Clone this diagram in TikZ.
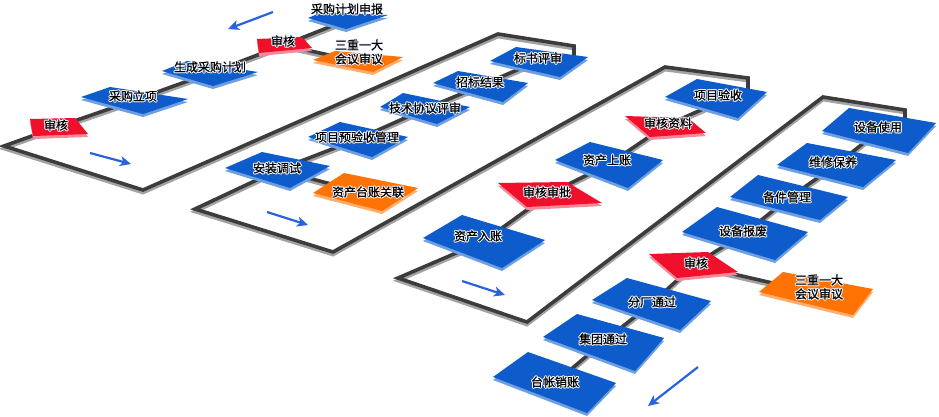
\documentclass[tikz,border=0pt]{standalone}
\usepackage{fontspec}
\newfontfamily\cjk[FakeBold=0.7]{Noto Sans CJK SC}
\usetikzlibrary{arrows.meta}
\definecolor{bmain}{HTML}{0E5BCB}
\definecolor{bedge}{HTML}{6E9FE0}
\definecolor{rmain}{HTML}{F0102C}
\definecolor{redge}{HTML}{F38A9A}
\definecolor{omain}{HTML}{FF7204}
\definecolor{oedge}{HTML}{FFAE70}
\definecolor{lmain}{HTML}{3C3C3C}
\definecolor{lshad}{HTML}{A3A3A3}
\definecolor{arr}{HTML}{2A62DE}
\definecolor{halo}{HTML}{F4F8FF}
\newcommand\blk[5]{\fill[#1edge,yshift=-3pt] #2--#3--#4--#5--cycle; \fill[#1main] #2--#3--#4--#5--cycle;}
\newcommand\glow[1]{{%
\def\gc##1##2{\makebox[0pt][l]{\hspace{##1}\raisebox{##2}{\color{halo}#1}}}%
\gc{1pt}{0pt}\gc{-1pt}{0pt}\gc{0pt}{1pt}\gc{0pt}{-1pt}\gc{0.7pt}{0.7pt}\gc{-0.7pt}{0.7pt}\gc{0.7pt}{-0.7pt}\gc{-0.7pt}{-0.7pt}#1}}
\newcommand\allnets[1]{%
 \draw[#1] (s1)--(s2)--(s4)--(s5)--(s6)--(c1)--(c2)--(c3)--(c4)--(c4|-s7);
 \draw[#1] (s2)--(s3);
 \draw[#1] (s7)--(s8)--(s9)--(s10)--(s11)--(c5)--(c6)--(c7)--(c8)--(c8|-s13);
 \draw[#1] (s11)--(s12);
 \draw[#1] (s13)--(s14)--(s15)--(s16)--(s17)--(c9)--(c10)--(c11)--(c12)--(c12|-s18);
 \draw[#1] (s18)--(s19)--(s20)--(s21)--(s22)--(s24)--(s25)--(s26);
 \draw[#1] (s22)--(s23);
}
\begin{document}
\begin{tikzpicture}[x=1pt,y=-1pt,line join=miter,
  conn/.style={line width=3.6pt,draw=lmain},
  connsh/.style={line width=3.6pt,draw=lshad},
  lbl/.style={font=\cjk\fontsize{12}{14}\selectfont,inner sep=0pt,align=center},
  flow/.style={draw=arr,line width=2.2pt,-{Stealth[length=11pt,width=10pt,inset=3pt]}}]
\fill[white] (0,0) rectangle (939,416);
\useasboundingbox (0,0) rectangle (939,416);
% shape centres
\coordinate (s1) at (347,20);
\coordinate (s2) at (284,45);
\coordinate (s3) at (360,62);
\coordinate (s4) at (210,73);
\coordinate (s5) at (135,100);
\coordinate (s6) at (57,127);
\coordinate (s7) at (540,60);
\coordinate (s8) at (480,86);
\coordinate (s9) at (425,109);
\coordinate (s10) at (358,139);
\coordinate (s11) at (278,170);
\coordinate (s12) at (365,193);
\coordinate (s13) at (730,97);
\coordinate (s14) at (665,126);
\coordinate (s15) at (609,164);
\coordinate (s16) at (549,194);
\coordinate (s17) at (484,241);
\coordinate (s18) at (880,130);
\coordinate (s19) at (836,165);
\coordinate (s20) at (789,198);
\coordinate (s21) at (745,233);
\coordinate (s22) at (694,265);
\coordinate (s23) at (816,293);
\coordinate (s24) at (651,304);
\coordinate (s25) at (603,342);
\coordinate (s26) at (555,383);
% frame corners
\coordinate (c1) at (4,146);
\coordinate (c2) at (143,190);
\coordinate (c3) at (498,34);
\coordinate (c4) at (574,46);
\coordinate (c5) at (195,209);
\coordinate (c6) at (333,252);
\coordinate (c7) at (665,67);
\coordinate (c8) at (748,78);
\coordinate (c9) at (398,278);
\coordinate (c10) at (527,322);
\coordinate (c11) at (823,97);
\coordinate (c12) at (905,110);
% connectors
\begin{scope}[transform canvas={yshift=-2.6pt}]
\allnets{connsh}
\end{scope}
\allnets{conn}
% shapes
\blk{b}{(308,18)}{(322,12)}{(388,15)}{(346,29)}
\blk{r}{(257,39)}{(302,37)}{(312,48)}{(259,53)}
\blk{o}{(313,60)}{(335,51)}{(403,57)}{(373,72)}
\blk{b}{(162,71)}{(187,61)}{(258,72)}{(213,86)}
\blk{b}{(81,97)}{(110,87)}{(188,99)}{(143,114)}
\blk{r}{(30,119)}{(75,118)}{(88,134)}{(33,136)}
\blk{b}{(490,61)}{(516,47)}{(588,57)}{(560,77)}
\blk{b}{(433,83)}{(458,71)}{(528,83)}{(503,102)}
\blk{b}{(380,107)}{(403,93)}{(470,107)}{(437,124)}
\blk{b}{(308,137)}{(340,122)}{(408,137)}{(372,157)}
\blk{b}{(225,168)}{(262,152)}{(330,166)}{(290,188)}
\blk{o}{(313,193)}{(344,173)}{(418,188)}{(382,211)}
\blk{b}{(665,97)}{(697,79)}{(767,92)}{(738,118)}
\blk{r}{(625,116)}{(688,118)}{(706,133)}{(650,137)}
\blk{b}{(555,160)}{(590,142)}{(663,160)}{(628,188)}
\blk{r}{(498,183)}{(567,182)}{(602,203)}{(527,207)}
\blk{b}{(423,238)}{(462,215)}{(545,240)}{(502,268)}
\blk{b}{(822,131)}{(849,108)}{(936,123)}{(908,153)}
\blk{b}{(777,165)}{(807,143)}{(896,160)}{(863,187)}
\blk{b}{(730,197)}{(758,175)}{(848,197)}{(820,220)}
\blk{b}{(682,232)}{(717,207)}{(808,232)}{(775,260)}
\blk{r}{(649,254)}{(708,252)}{(738,272)}{(677,278)}
\blk{o}{(759,292)}{(783,272)}{(873,289)}{(853,315)}
\blk{b}{(592,300)}{(627,278)}{(711,301)}{(680,330)}
\blk{b}{(543,337)}{(577,314)}{(664,338)}{(635,371)}
\blk{b}{(493,377)}{(528,352)}{(616,383)}{(587,413)}
% labels
\node[lbl] (t1) at (347,9) {\glow{采购计划申报}};
\node[lbl] (t2) at (283,41) {\glow{审核}};
\node[lbl] (t3) at (359,52) {\glow{三重一大}\\\glow{会议审议}};
\node[lbl] (t4) at (210,67) {\glow{生成采购计划}};
\node[lbl] (t5) at (133,96) {\glow{采购立项}};
\node[lbl] (t6) at (56,125) {\glow{审核}};
\node[lbl] (t7) at (538,58) {\glow{标书评审}};
\node[lbl] (t8) at (480,82) {\glow{招标结果}};
\node[lbl] (t9) at (425,108) {\glow{技术协议评审}};
\node[lbl] (t10) at (357,137) {\glow{项目预验收管理}};
\node[lbl] (t11) at (277,168) {\glow{安装调试}};
\node[lbl] (t12) at (368,192) {\glow{资产台账关联}};
\node[lbl] (t13) at (718,95) {\glow{项目验收}};
\node[lbl] (t14) at (668,123) {\glow{审核资料}};
\node[lbl] (t15) at (607,160) {\glow{资产上账}};
\node[lbl] (t16) at (547,192) {\glow{审核审批}};
\node[lbl] (t17) at (478,236) {\glow{资产入账}};
\node[lbl] (t18) at (878,127) {\glow{设备使用}};
\node[lbl] (t19) at (833,162) {\glow{维修保养}};
\node[lbl] (t20) at (787,197) {\glow{备件管理}};
\node[lbl] (t21) at (743,231) {\glow{设备报废}};
\node[lbl] (t22) at (696,263) {\glow{审核}};
\node[lbl] (t23) at (819,287) {\glow{三重一大}\\\glow{会议审议}};
\node[lbl] (t24) at (652,302) {\glow{分厂通过}};
\node[lbl] (t25) at (603,339) {\glow{集团通过}};
\node[lbl] (t26) at (555,382) {\glow{台帐销账}};
% flow arrows
\coordinate (a1s) at (273,12); \coordinate (a1e) at (228,29);
\coordinate (a2s) at (90,153); \coordinate (a2e) at (131,164);
\coordinate (a3s) at (267,212); \coordinate (a3e) at (308,225);
\coordinate (a4s) at (462,281); \coordinate (a4e) at (505,295);
\coordinate (a5s) at (698,367); \coordinate (a5e) at (648,406);
\draw[flow] (a1s) -- (a1e);
\draw[flow] (a2s) -- (a2e);
\draw[flow] (a3s) -- (a3e);
\draw[flow] (a4s) -- (a4e);
\draw[flow] (a5s) -- (a5e);
\end{tikzpicture}
\end{document}
